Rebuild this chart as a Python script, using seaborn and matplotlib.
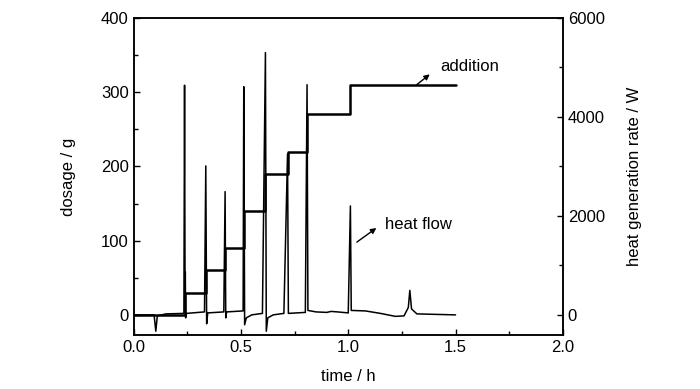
import matplotlib
matplotlib.use("Agg")
import matplotlib.pyplot as plt
import seaborn as sns
from matplotlib.ticker import MultipleLocator, FormatStrFormatter

# dosage steps (g) vs time (h)
dose_t = [0.0, 0.237, 0.336, 0.426, 0.513, 0.614, 0.717, 0.808, 1.010, 1.5]
dose_g = [0, 30, 60, 90, 140, 190, 220, 270, 310, 310]

# heat generation rate (W) vs time (h)
heat_t = [0.0, 0.095, 0.103, 0.110, 0.15, 0.234, 0.237, 0.2395, 0.2405, 0.242, 0.246,
          0.33, 0.336, 0.340, 0.345, 0.42, 0.426, 0.429, 0.433,
          0.51, 0.513, 0.517, 0.525, 0.55, 0.60, 0.614, 0.618, 0.625, 0.65,
          0.70, 0.717, 0.721, 0.80, 0.808, 0.812, 0.85, 0.90, 0.92, 0.95, 1.0,
          1.010, 1.014, 1.08, 1.15, 1.22, 1.26, 1.28, 1.287, 1.295, 1.32, 1.5]
heat_w = [0, 0, -330, -20, 20, 30, 4640, 300, 870, -60, 30,
          60, 3010, -180, 40, 60, 2490, -60, 60,
          80, 4610, -200, -60, 0, 30, 5300, -330, -60, 0,
          30, 3250, 30, 50, 4650, 90, 60, 50, 70, 60, 40,
          2200, 90, 80, 30, -30, -20, 150, 495, 120, 20, 0]

sns.set_style("ticks")
plt.rcParams['font.family'] = ['Liberation Sans', 'DejaVu Sans']
plt.rcParams['font.size'] = 12
plt.rcParams['text.color'] = 'black'
plt.rcParams['axes.labelcolor'] = 'black'
plt.rcParams['xtick.color'] = 'black'
plt.rcParams['ytick.color'] = 'black'
plt.rcParams['axes.edgecolor'] = 'black'

fig = plt.figure(figsize=(7, 3.89), dpi=100)
ax = fig.add_axes([0.191, 0.139, 0.613, 0.815])
ax2 = ax.twinx()

sns.lineplot(x=dose_t, y=dose_g, ax=ax, color='black', linewidth=1.8,
             drawstyle='steps-post')
sns.lineplot(x=heat_t, y=heat_w, ax=ax2, color='black', linewidth=1.1)

ax.set_xlim(0, 2.0)
ax.set_ylim(-27, 400)
ax2.set_ylim(-405, 6000)

ax.xaxis.set_major_locator(MultipleLocator(0.5))
ax.xaxis.set_minor_locator(MultipleLocator(0.25))
ax.yaxis.set_major_locator(MultipleLocator(100))
ax.yaxis.set_minor_locator(MultipleLocator(50))
ax2.yaxis.set_major_locator(MultipleLocator(2000))
ax2.yaxis.set_minor_locator(MultipleLocator(1000))
ax.xaxis.set_major_formatter(FormatStrFormatter('%.1f'))

for a in (ax, ax2):
    a.tick_params(which='both', direction='in', labelsize=12, width=1)
    a.tick_params(which='major', length=4)
    a.tick_params(which='minor', length=3)
    for s in a.spines.values():
        s.set_linewidth(1.1)
        s.set_visible(True)
ax.tick_params(which='both', top=False, right=False)

ax.set_xlabel('time / h', fontsize=12, labelpad=10)
ax.set_ylabel('dosage / g', fontsize=12, labelpad=18)
ax2.set_ylabel('heat generation rate / W', fontsize=12, labelpad=16)

# addition label with arrow pointing from the step line to the text
ax.annotate('', xy=(1.38, 324), xytext=(1.319, 310),
            arrowprops=dict(arrowstyle='-|>', color='black', lw=1,
                            mutation_scale=8, shrinkA=0, shrinkB=0))
ax.text(1.43, 334, 'addition', fontsize=12, va='center', ha='left')

ax.annotate('', xy=(1.131, 117), xytext=(1.04, 98),
            arrowprops=dict(arrowstyle='-|>', color='black', lw=1,
                            mutation_scale=8, shrinkA=0, shrinkB=0))
ax.text(1.17, 122, 'heat flow', fontsize=12, va='center', ha='left')

plt.savefig('out.png', dpi=100)
